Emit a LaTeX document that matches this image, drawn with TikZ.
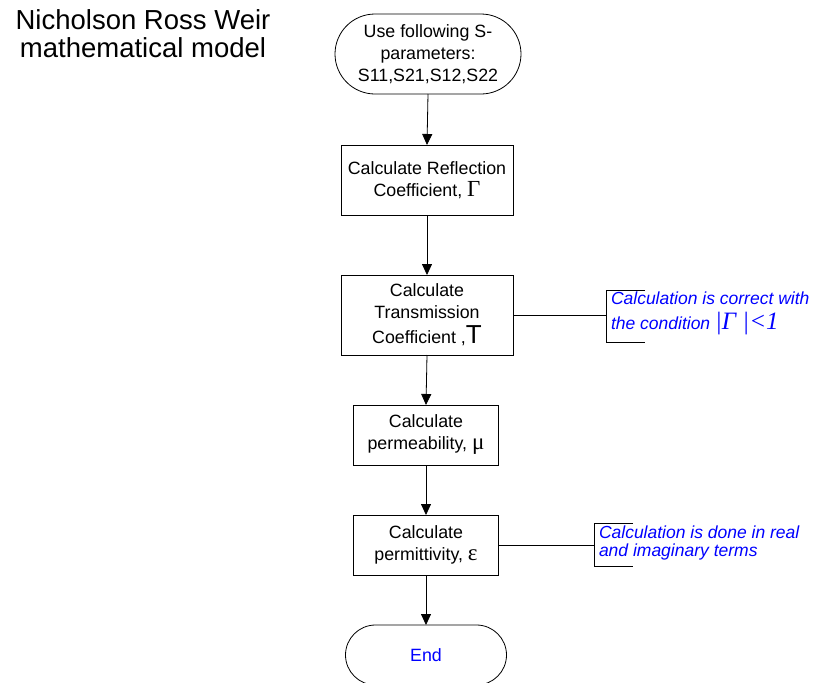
\documentclass[tikz,border=0pt]{standalone}
\usepackage{fontspec}
\setmainfont{Liberation Sans}
\newfontfamily\grk{Liberation Serif}
\usetikzlibrary{arrows.meta}
\begin{document}
\begin{tikzpicture}[x=1pt,y=-1pt,
  every node/.style={inner sep=0pt, outer sep=0pt},
  procbox/.style={draw, line width=0.8pt, align=center, font=\fontsize{17.8}{22}\selectfont},
  term/.style={draw, line width=0.8pt, align=center, font=\fontsize{17.8}{22}\selectfont},
  flow/.style={draw, line width=0.8pt, -{Triangle[length=11pt,width=10pt]}},
  note/.style={text=blue, align=left, anchor=north west, font=\fontsize{17.5}{18}\itshape\selectfont},
  bracket/.style={draw, line width=0.8pt}
]
\useasboundingbox (0,0) rectangle (815,683);
\begin{scope}
\clip (0,0) rectangle (815,683);
\node[font=\fontsize{27.5}{28}\selectfont, align=center] (title) at (143,34) {Nicholson Ross Weir\\mathematical model};

\node[term, minimum width=186pt, minimum height=80pt, rounded corners=40pt] (start) at (428,54)
  {Use following S-\\parameters:\\S11,S21,S12,S22};
\node[procbox, minimum width=172pt, minimum height=70pt] (refl) at (427,180)
  {Calculate Reflection\\Coefficient, {\grk\fontsize{23}{22}\selectfont Γ}};
\node[procbox, minimum width=172pt, minimum height=80pt] (trans) at (427,315)
  {Calculate\\Transmission\\[3pt]Coefficient ,{\fontsize{26}{22}\selectfont T}};
\node[procbox, minimum width=145pt, minimum height=60pt] (perm) at (426,435)
  {Calculate\\permeability, {\grk\fontsize{23}{22}\selectfont μ}};
\node[procbox, minimum width=145pt, minimum height=60pt] (epsi) at (426,545)
  {Calculate\\permittivity, {\grk\fontsize{23}{22}\selectfont ε}};
\node[term, minimum width=161pt, minimum height=60pt, rounded corners=30pt, text=blue] (end) at (426,655) {End};

\draw[flow] (start.south) -- (refl.north);
\draw[flow] (refl.south) -- (trans.north);
\draw[flow] (trans.south) -- (perm.north);
\draw[flow] (perm.south) -- (epsi.north);
\draw[flow] (epsi.south) -- (end.north);

% annotation 1
\coordinate (b1) at (606,315);
\draw[bracket] (trans.east) -- (b1);
\draw[bracket] (645,290) -- (606,290) -- (606,342) -- (645,342);
\node[note] (n1) at (611,292) {Calculation is correct with\\[7pt]the condition {\grk\fontsize{25}{18}\selectfont\itshape |Γ |<1}};

% annotation 2
\coordinate (b2) at (594,545);
\draw[bracket] (epsi.east) -- (b2);
\draw[bracket] (633,523) -- (594,523) -- (594,566) -- (633,566);
\node[note] (n2) at (599,526) {Calculation is done in real\\and imaginary terms};
\end{scope}
\end{tikzpicture}
\end{document}
